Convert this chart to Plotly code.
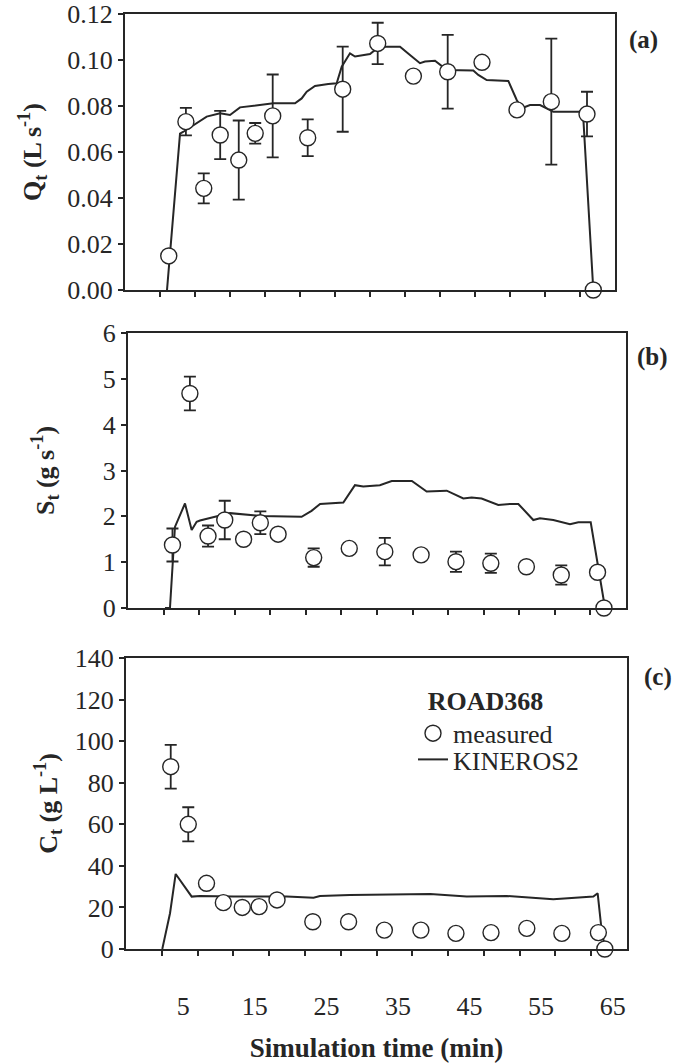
import plotly.graph_objects as go

W, H = 678, 1063
FONT = "Times New Roman, Liberation Serif, Times, serif"
INK = "#262626"

# ---------------- data (simulation time in minutes) ----------------
time_meas = [3.25, 5.7, 8.25, 10.6, 13.25, 15.6, 18.1, 23.1, 28.1, 33.1,
             38.2, 43.1, 48.0, 53.0, 57.9, 63.0, 63.9]

q_meas = [0.0148, 0.0732, 0.0442, 0.0674, 0.0565, 0.0681, 0.0757, 0.0662, 0.0873,
          0.1072, 0.0930, 0.0949, 0.0990, 0.0783, 0.0819, 0.0765, 0.0]
q_err = [0, 0.006, 0.0065, 0.0105, 0.0172, 0.0045, 0.018, 0.008, 0.0185,
         0.009, 0, 0.016, 0, 0, 0.0274, 0.0097, 0]

s_meas = [1.375, 4.68, 1.57, 1.92, 1.50, 1.86, 1.61, 1.10, 1.30, 1.23, 1.16,
          1.01, 0.975, 0.90, 0.72, 0.78, 0.0]
s_err = [0.36, 0.37, 0.23, 0.42, 0, 0.25, 0, 0.2, 0, 0.3, 0, 0.22, 0.21, 0,
         0.21, 0, 0]

c_meas = [87.7, 60.0, 31.6, 22.3, 20.0, 20.4, 23.6, 13.1, 13.1, 9.1, 9.1, 7.5,
          7.9, 9.9, 7.5, 7.9, 0.0]
c_err = [10.5, 8.2, 0, 0, 0, 0, 0, 0, 0, 0, 0, 0, 0, 0, 0, 0, 0]

time_q_model = [3.0, 4.86, 5.29, 6.76, 8.67, 10.57, 12.0, 13.43, 16.29, 18.19, 21.29,
                22.24, 22.96, 24.14, 26.04, 27.24, 27.96, 29.14, 29.86, 32.0, 33.29,
                36.29, 37.71, 39.14, 39.86, 41.29, 42.96, 46.76, 47.47, 48.67, 51.76,
                52.96, 53.67, 54.86, 56.29, 57.71, 58.19, 62.24, 62.43, 63.9]
q_model = [0, 0.068, 0.0687, 0.0717, 0.0754, 0.0768, 0.0761, 0.0794, 0.0804, 0.0812,
           0.0812, 0.0833, 0.0862, 0.0887, 0.0896, 0.0899, 0.0971, 0.1029, 0.1015,
           0.1026, 0.1058, 0.1058, 0.1022, 0.0986, 0.0993, 0.0997, 0.0957, 0.0954,
           0.0935, 0.0913, 0.0909, 0.0826, 0.079, 0.0804, 0.0804, 0.0783, 0.0775,
           0.0775, 0.077, 0]

time_s_model = [2.2, 2.9, 3.6, 5.01, 5.95, 6.65, 7.12, 11.34, 15.56, 21.4, 22.8, 24.0,
                27.27, 28.9, 30.07, 32.4, 34.07, 36.9, 38.98, 41.8, 44.13, 45.3, 46.7,
                49.05, 50.7, 51.87, 53.97, 54.9, 56.78, 59.13, 60.3, 62.04, 64.05]
s_model = [0, 0, 1.77, 2.28, 1.70, 1.88, 1.91, 2.07, 2.01, 1.99, 2.12, 2.27, 2.30,
           2.68, 2.65, 2.68, 2.77, 2.77, 2.54, 2.56, 2.39, 2.41, 2.39, 2.25, 2.27,
           2.27, 1.92, 1.96, 1.92, 1.83, 1.87, 1.87, 0]

time_c_model = [2.07, 3.15, 3.94, 6.18, 7.34, 12.0, 19.45, 23.2, 24.1, 28.3, 39.5,
                44.6, 50.2, 56.7, 62.3, 62.9, 63.5, 64.0]
c_model = [0, 17.2, 36.1, 25.2, 25.5, 25.2, 25.2, 24.7, 25.5, 26.0, 26.5, 25.2,
           25.5, 23.9, 25.2, 26.8, 7.5, 0]

x_tick_labels = ["5", "15", "25", "35", "45", "55", "65"]
x_label_vals = [5, 15, 25, 35, 45, 55, 65]
x_tick_marks = [2, 7, 12, 17, 22, 27, 32, 37, 42, 47, 52, 57, 62]
x_range = [-3, 67]

panels = [
    dict(model_t=time_q_model, model_v=q_model, meas_v=q_meas, err=q_err,
         yr=[0, 0.12], dtick=0.02, fmt=".2f",
         title="<b>Q<sub>t</sub> (L s<sup>-1</sup>)</b>", standoff=18,
         xd=[125, 615], yd=[14, 290], label="(a)", lab_pos=(643, 40)),
    dict(model_t=time_s_model, model_v=s_model, meas_v=s_meas, err=s_err,
         yr=[0, 6], dtick=1, fmt="d",
         title="<b>S<sub>t</sub> (g s<sup>-1</sup>)</b>", standoff=41,
         xd=[128, 626], yd=[333, 608], label="(b)", lab_pos=(652, 357)),
    dict(model_t=time_c_model, model_v=c_model, meas_v=c_meas, err=c_err,
         yr=[0, 140], dtick=20, fmt="d",
         title="<b>C<sub>t</sub> (g L<sup>-1</sup>)</b>", standoff=10,
         xd=[126, 627], yd=[658, 949], label="(c)", lab_pos=(658, 677)),
]

fig = go.Figure()
layout = {}
annotations = []
for i, p in enumerate(panels, start=1):
    xa = "x" if i == 1 else f"x{i}"
    ya = "y" if i == 1 else f"y{i}"
    last = i == 3
    fig.add_trace(go.Scatter(
        x=p["model_t"], y=p["model_v"], xaxis=xa, yaxis=ya, mode="lines",
        line=dict(color=INK, width=2), name="KINEROS2",
        showlegend=last, legend="legend2", cliponaxis=False))
    fig.add_trace(go.Scatter(
        x=time_meas, y=p["meas_v"], xaxis=xa, yaxis=ya, mode="markers",
        marker=dict(symbol="circle", size=16, color="white",
                    line=dict(color=INK, width=1.4)),
        error_y=dict(type="data", array=p["err"], symmetric=True,
                     color=INK, thickness=1.8, width=6),
        name="measured", showlegend=last, legend="legend", cliponaxis=False))

    xaxis = dict(
        domain=[p["xd"][0] / W, p["xd"][1] / W], anchor=ya, range=x_range,
        showline=True, linewidth=2, linecolor=INK, mirror=True,
        showgrid=False, zeroline=False, ticks="",
        minor=dict(tickmode="array", tickvals=x_tick_marks, ticks="outside",
                   ticklen=5, tickwidth=1.5, tickcolor=INK),
    )
    if last:
        xaxis.update(
            tickmode="array", tickvals=x_label_vals, ticktext=x_tick_labels,
            showticklabels=True, ticklabelstandoff=33,
            tickfont=dict(family=FONT, size=26, color=INK),
            title=dict(text="<b>Simulation time (min)</b>",
                       font=dict(family=FONT, size=27, color=INK), standoff=20))
    else:
        xaxis.update(showticklabels=False)
    layout["xaxis" if i == 1 else f"xaxis{i}"] = xaxis
    layout["yaxis" if i == 1 else f"yaxis{i}"] = dict(
        domain=[1 - p["yd"][1] / H, 1 - p["yd"][0] / H], anchor=xa,
        range=p["yr"], dtick=p["dtick"], tickformat=p["fmt"],
        showline=True, linewidth=2, linecolor=INK, mirror=True,
        showgrid=False, zeroline=False, ticks="outside", ticklen=5,
        tickwidth=1.5, tickcolor=INK,
        tickfont=dict(family=FONT, size=26, color=INK),
        title=dict(text=p["title"], font=dict(family=FONT, size=26, color=INK),
                   standoff=p["standoff"]),
        automargin=False,
    )
    annotations.append(dict(
        text=f"<b>{p['label']}</b>", x=p["lab_pos"][0] / W, y=1 - p["lab_pos"][1] / H,
        xref="paper", yref="paper", xanchor="center", yanchor="middle",
        showarrow=False, font=dict(family=FONT, size=25, color=INK)))

fig.update_layout(
    width=W, height=H, margin=dict(l=0, r=0, t=0, b=0),
    paper_bgcolor="white", plot_bgcolor="white",
    font=dict(family=FONT, color=INK),
    annotations=annotations,
    legend=dict(x=413 / W, y=1 - 676 / H, xanchor="left", yanchor="top",
                bgcolor="rgba(0,0,0,0)",
                title=dict(text="<b>ROAD368</b>", side="top center",
                           font=dict(family=FONT, size=26, color=INK)),
                font=dict(family=FONT, size=26, color=INK), itemwidth=30),
    legend2=dict(x=413 / W, y=1 - 736 / H, xanchor="left", yanchor="top",
                 bgcolor="rgba(0,0,0,0)",
                 font=dict(family=FONT, size=26, color=INK), itemwidth=30),
    **layout,
)

fig.write_html("out.html")
